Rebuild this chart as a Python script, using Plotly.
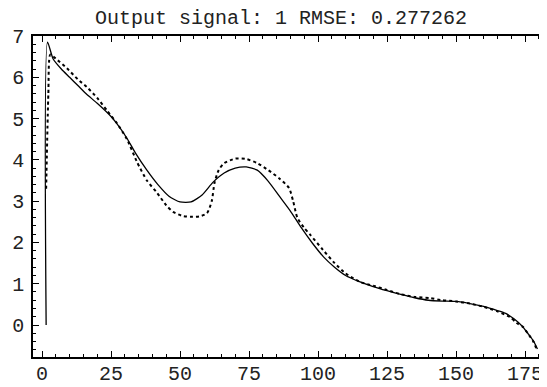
import plotly.graph_objects as go

# Solid series (model output)
solid_x = [1.5, 2, 4, 7, 10, 13, 16, 20, 25, 28, 31, 34, 38, 42, 46, 50, 54, 58, 62, 66,
           70, 74, 78, 82, 86, 90, 94, 98, 102, 106, 110, 115, 120, 125, 130, 135, 140,
           145, 150, 155, 160, 165, 168, 171, 174, 176, 178, 179.5]
solid_y = [0.0, 6.85, 6.45, 6.2, 6.0, 5.8, 5.6, 5.37, 5.05, 4.8, 4.5, 4.15, 3.75, 3.4,
           3.12, 2.98, 2.98, 3.15, 3.46, 3.68, 3.8, 3.83, 3.75, 3.48, 3.12, 2.76, 2.35,
           1.98, 1.65, 1.4, 1.2, 1.05, 0.93, 0.83, 0.74, 0.66, 0.6, 0.58, 0.57, 0.52,
           0.45, 0.35, 0.28, 0.15, -0.03, -0.2, -0.38, -0.58]

# Dotted series (target signal)
dot_x = [1.5, 2.3, 3, 5, 9, 13, 16.3, 20, 23.5, 27, 30.8, 34.4, 38, 41.7, 45, 47.5, 51,
         54, 57, 59.8, 61.5, 62.5, 64, 66, 70, 74, 78, 82, 86, 89.5, 91, 92.5, 95, 97,
         101.8, 106, 110, 115, 120, 125, 129.7, 135, 140.6, 145, 150, 155, 160, 165,
         169.6, 172, 174.3, 176, 178, 179.3]
dot_y = [3.3, 5.6, 6.55, 6.45, 6.22, 5.95, 5.76, 5.5, 5.2, 4.9, 4.5, 3.95, 3.5, 3.2, 2.9,
         2.74, 2.64, 2.62, 2.63, 2.71, 3.0, 3.44, 3.75, 3.92, 4.03, 4.02, 3.92, 3.75, 3.55,
         3.32, 3.0, 2.6, 2.35, 2.2, 1.82, 1.5, 1.25, 1.05, 0.95, 0.85, 0.75, 0.68, 0.65,
         0.6, 0.57, 0.52, 0.44, 0.33, 0.19, 0.05, -0.05, -0.2, -0.4, -0.6]

x_ticks = [0, 25, 50, 75, 100, 125, 150, 175]
y_ticks = [0, 1, 2, 3, 4, 5, 6, 7]
title_text = "Output signal: 1 RMSE: 0.277262"

FONT = "Liberation Mono, Courier New, monospace"

# The page body has an 8px default margin; size the figure to fit the window.
FIG_W, FIG_H = 539, 379

fig = go.Figure()
fig.add_trace(go.Scatter(x=solid_x, y=solid_y, mode="lines",
                         line=dict(color="black", width=1.3, shape="spline", smoothing=0.6),
                         showlegend=False))
fig.add_trace(go.Scatter(x=dot_x, y=dot_y, mode="lines",
                         line=dict(color="black", width=2, dash="dot", shape="spline", smoothing=0.6),
                         showlegend=False))

axis_common = dict(
    showgrid=False, zeroline=False, showline=True, linecolor="black", linewidth=1.5,
    ticks="inside", ticklen=6, tickwidth=1.2, tickcolor="black", automargin=False,
    tickfont=dict(family=FONT, size=20, color="#222"),
)

fig.update_xaxes(range=[-3.26, 182.97], tickvals=x_ticks, mirror="ticks",
                 ticklabelstandoff=-3,
                 minor=dict(dtick=5, tick0=0, ticks="inside", ticklen=3, tickcolor="black", tickwidth=1),
                 **axis_common)
fig.update_yaxes(range=[-0.775, 7], tickvals=y_ticks, mirror=False,
                 ticklabelstandoff=3,
                 minor=dict(dtick=0.2, tick0=0, ticks="inside", ticklen=3, tickcolor="black", tickwidth=1),
                 **axis_common)

fig.update_layout(
    width=FIG_W, height=FIG_H,
    margin=dict(l=25, r=0, t=28, b=30),
    paper_bgcolor="white", plot_bgcolor="white",
    title=dict(text=title_text, x=273 / FIG_W, xref="container", xanchor="center",
               y=1 - 9 / FIG_H, yref="container", yanchor="middle",
               font=dict(family=FONT, size=20, color="#222")),
)

fig.write_html("out.html")
